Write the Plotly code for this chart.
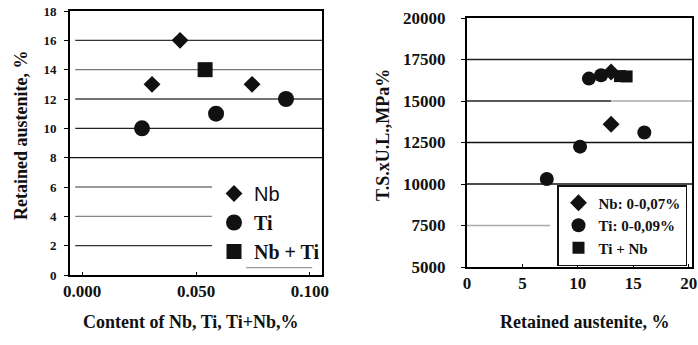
import plotly.graph_objects as go

# ---------------- data ----------------
# Left chart: retained austenite vs content of microalloying element
nb_content = [0.0307, 0.043, 0.0746]
nb_ra = [13, 16, 13]
ti_content = [0.0263, 0.0588, 0.0895]
ti_ra = [10, 11, 12]
nbti_content = [0.054]
nbti_ra = [14]
left_yticks = [0, 2, 4, 6, 8, 10, 12, 14, 16, 18]
left_xticks = [0.0, 0.05, 0.1]
left_xticklabels = ["0.000", "0.050", "0.100"]

# Right chart: T.S. x U.L. vs retained austenite
r_nb_ra = [13.0, 13.0]
r_nb_tsul = [13600, 16750]
r_ti_ra = [7.2, 10.2, 11.0, 12.1, 16.0]
r_ti_tsul = [10300, 12250, 16350, 16550, 13100]
r_tinb_ra = [13.8, 14.4]
r_tinb_tsul = [16500, 16480]
right_yticks = [5000, 7500, 10000, 12500, 15000, 17500, 20000]
right_yticklabels = ["5000", "7500", "10000", "12500", "15000", "17500", "20000"]
right_xticks = [0, 5, 10, 15, 20]

# ---------------- styles ----------------
SERIF = "Liberation Serif"
W, H = 698, 345

def px(x):
    return x / W

def py(y):
    return 1 - y / H

# grid line styles (level, start, end, colour)
left_grid = [
    (16, -0.003, 0.1053, "#333"),
    (14, -0.003, 0.1053, "#777"),
    (12, -0.003, 0.1053, "#444"),
    (10, -0.003, 0.1053, "#222"),
    (8, -0.0053, 0.1053, "#111"),
    (6, -0.003, 0.057, "#777"),
    (4, -0.003, 0.057, "#888"),
    (2, -0.003, 0.057, "#333"),
    (0.5, 0.072, 0.101, "#999"),
]
right_grid = [
    (17500, 0, 20.3, "#222"),
    (15000, 0, 13, "#222"),
    (15000, 13, 20.3, "#aaa"),
    (12500, 0, 20.3, "#111"),
    (10000, 0, 20.3, "#111"),
    (7500, 0, 7.5, "#aaa"),
]

fig = go.Figure()

# left traces
fig.add_trace(go.Scatter(
    x=nb_content, y=nb_ra, mode="markers", xaxis="x", yaxis="y",
    name='<span style="font-family:Liberation Sans;font-weight:normal">Nb</span>',
    marker=dict(symbol="diamond", size=13, color="#111"), legend="legend"))
fig.add_trace(go.Scatter(
    x=ti_content, y=ti_ra, mode="markers", xaxis="x", yaxis="y",
    name="<b>Ti</b>",
    marker=dict(symbol="circle", size=16, color="#111"), legend="legend"))
fig.add_trace(go.Scatter(
    x=nbti_content, y=nbti_ra, mode="markers", xaxis="x", yaxis="y",
    name="<b>Nb + Ti</b>",
    marker=dict(symbol="square", size=15, color="#111"), legend="legend"))

# right traces
fig.add_trace(go.Scatter(
    x=r_nb_ra, y=r_nb_tsul, mode="markers", xaxis="x2", yaxis="y2",
    name="<b>Nb: 0-0,07%</b>",
    marker=dict(symbol="diamond", size=13, color="#111"), legend="legend2"))
fig.add_trace(go.Scatter(
    x=r_ti_ra, y=r_ti_tsul, mode="markers", xaxis="x2", yaxis="y2",
    name="<b>Ti: 0-0,09%</b>",
    marker=dict(symbol="circle", size=14, color="#111"), legend="legend2"))
fig.add_trace(go.Scatter(
    x=r_tinb_ra, y=r_tinb_tsul, mode="markers", xaxis="x2", yaxis="y2",
    name="<b>Ti + Nb</b>",
    marker=dict(symbol="square", size=12, color="#111"), legend="legend2"))

shapes = []
for lvl, x0, x1, col in left_grid:
    shapes.append(dict(type="line", xref="x", yref="y", x0=x0, x1=x1, y0=lvl, y1=lvl,
                       line=dict(color=col, width=1.3), layer="below"))
for lvl, x0, x1, col in right_grid:
    shapes.append(dict(type="line", xref="x2", yref="y2", x0=x0, x1=x1, y0=lvl, y1=lvl,
                       line=dict(color=col, width=1.3), layer="below"))

axis_common = dict(showgrid=False, zeroline=False, showline=True, mirror=True,
                   linecolor="black", linewidth=2, tickcolor="black",
                   automargin=False, ticklabeloverflow="allow")

def ann(text, x, y, size, angle=0):
    return dict(text=text, xref="paper", yref="paper", x=px(x), y=py(y),
                xanchor="center", yanchor="middle", textangle=angle,
                showarrow=False, font=dict(family=SERIF, size=size, color="#111"))

fig.update_layout(
    width=W, height=H,
    margin=dict(l=0, r=0, t=0, b=0, autoexpand=False),
    paper_bgcolor="white", plot_bgcolor="white",
    font=dict(family=SERIF, color="#111"),
    showlegend=True,
    shapes=shapes,
    xaxis=dict(domain=[px(70), px(322)], range=[-0.0053, 0.1053],
               tickvals=left_xticks, ticktext=left_xticklabels,
               tickfont=dict(family=SERIF, size=17, weight="bold"),
               ticks="inside", ticklen=3, ticklabelstandoff=0,
               anchor="y", **axis_common),
    yaxis=dict(domain=[py(275), py(11)], range=[0, 18], tickvals=left_yticks,
               tickfont=dict(family=SERIF, size=13, weight="bold"),
               ticks="outside", ticklen=4, ticklabelstandoff=5,
               anchor="x", **axis_common),
    xaxis2=dict(domain=[px(467), px(692)], range=[0, 20.3], tickvals=right_xticks,
                tickfont=dict(family=SERIF, size=17, weight="bold"),
                ticks="inside", ticklen=3, ticklabelstandoff=0,
                anchor="y2", **axis_common),
    yaxis2=dict(domain=[py(267), py(18)], range=[5000, 20000], tickvals=right_yticks,
                ticktext=right_yticklabels,
                tickfont=dict(family=SERIF, size=17, weight="bold"),
                ticks="outside", ticklen=4, ticklabelstandoff=12,
                anchor="x2", **axis_common),
    legend=dict(x=px(214), y=py(174), xanchor="left", yanchor="top",
                bgcolor="rgba(0,0,0,0)", borderwidth=0,
                font=dict(family=SERIF, size=20, color="#111"),
                itemsizing="trace", tracegroupgap=0, itemwidth=30),
    legend2=dict(x=px(557), y=py(185), xanchor="left", yanchor="top",
                 bgcolor="white", bordercolor="#111", borderwidth=1.5,
                 font=dict(family=SERIF, size=15, color="#111"),
                 itemsizing="trace", tracegroupgap=0, itemwidth=30),
    annotations=[
        ann("<b>Retained austenite, %</b>", 21, 135, 18, -90),
        ann("<b>Content of Nb, Ti, Ti+Nb,%</b>", 190, 322, 18),
        ann("<b>T.S.xU.L.,MPa%</b>", 383, 135, 18, -90),
        ann("<b>Retained austenite, %</b>", 585, 322, 18),
    ],
)

fig.write_html("out.html")
